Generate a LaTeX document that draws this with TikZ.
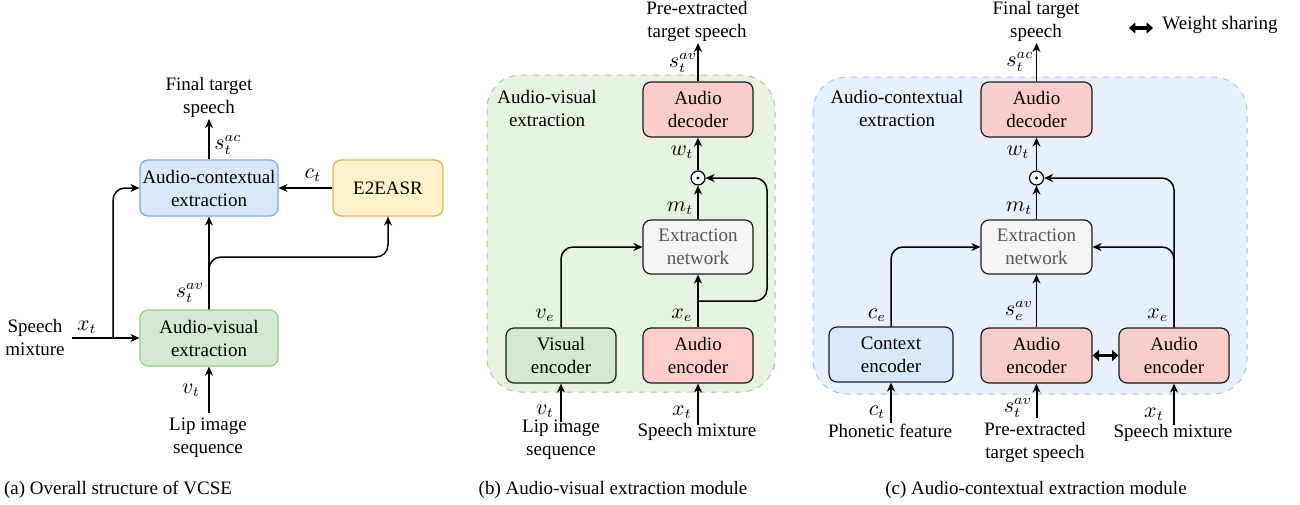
\documentclass[tikz,border=0pt]{standalone}
\usepackage{fontspec}
\setmainfont{Liberation Serif}
\usetikzlibrary{arrows.meta,calc}
\definecolor{acfill}{HTML}{DAE8FC}
\definecolor{acdraw}{HTML}{7EA6E0}
\definecolor{avfill}{HTML}{D5E8D4}
\definecolor{avdraw}{HTML}{97D077}
\definecolor{asrfill}{HTML}{FFF2CC}
\definecolor{asrdraw}{HTML}{D6B656}
\definecolor{redfill}{HTML}{F8CECC}
\definecolor{redfillb}{HTML}{FFCCCC}
\definecolor{extfill}{HTML}{F5F5F5}
\definecolor{exttext}{HTML}{555555}
\definecolor{gregfill}{HTML}{E7F1E4}
\definecolor{gregdraw}{HTML}{A9D18E}
\definecolor{bregfill}{HTML}{E9F0FC}
\definecolor{bregdraw}{HTML}{A9C4EB}
\definecolor{boxline}{HTML}{1A1A1A}
\tikzset{
  every node/.style={font=\fontsize{9.5}{11.5}\selectfont, inner sep=0pt},
  box/.style={rectangle, rounded corners=4pt, align=center, line width=0.6pt},
  blk/.style={box, draw=boxline},
  arr/.style={-{Stealth[length=4.5pt,width=4pt]}, line width=0.75pt},
  wsarr/.style={{Triangle[length=3.2pt,width=5.5pt]}-{Triangle[length=3.2pt,width=5.5pt]}, line width=1.6pt},
  odot/.style={circle, draw, line width=0.6pt, minimum size=7pt, fill=white},
  txt/.style={align=center},
  lab/.style={font=\fontsize{10.5}{12}\selectfont},
}
\begin{document}
\begin{tikzpicture}[x=0.5pt,y=-0.5pt]
\useasboundingbox (0,0) rectangle (1300,504);
% ================= panel (a) =================
\node[box, draw=acdraw, fill=acfill, minimum width=69pt, minimum height=28pt] (acx) at (209,188) {Audio-contextual\\extraction};
\node[box, draw=asrdraw, fill=asrfill, minimum width=55pt, minimum height=28pt] (asr) at (388,188) {E2EASR};
\node[box, draw=avdraw, fill=avfill, minimum width=69pt, minimum height=28pt] (avx) at (209,338) {Audio-visual\\extraction};
\node[txt] (afintxt) at (209,97) {Final target\\speech};
\coordinate (afin) at (209,119);
\draw[arr] (acx.north) -- (afin);
\node[lab] (asac) at (228,145) {$s_t^{ac}$};
\draw[arr] (asr.west) -- (acx.east);
\node[lab] (act) at (313,175) {$c_t$};
\draw[arr] (avx.north) -- (acx.south);
\coordinate (abr) at (388,257);
\draw[arr, rounded corners=6pt] (avx.north) |- (abr) -- (asr.south);
\node[lab] (asav) at (190,293) {$s_t^{av}$};
\node[txt] (amixtxt) at (35,337) {Speech\\mixture};
\coordinate (ain) at (72,338);
\coordinate (asplit) at (113,338);
\draw[arr] (ain) -- (avx.west);
\draw[arr, rounded corners=6pt] (asplit) |- (acx.west);
\node[lab] (axt) at (87,327) {$x_t$};
\coordinate (avin) at (209,413);
\draw[arr] (avin) -- (avx.south);
\node[lab] (avt) at (191,390) {$v_t$};
\node[txt] (aliptxt) at (208,438) {Lip image\\sequence};
\node (capa) at (118,490) {(a) Overall structure of VCSE};
% ================= panel (b) =================
\draw[gregdraw, fill=gregfill, dashed, line width=0.5pt, rounded corners=17pt] (487,75) rectangle (775,392);
\node[txt] (bregtxt) at (547,108) {Audio-visual\\extraction};
\node[blk, fill=redfill, minimum width=55pt, minimum height=27.5pt] (bdec) at (698,109.5) {Audio\\decoder};
\node[odot] (bodot) at (698,178) {};
\fill (bodot.center) circle (0.8pt);
\node[blk, fill=extfill, text=exttext, minimum width=55pt, minimum height=27pt] (bext) at (698,247) {Extraction\\network};
\node[blk, fill=avfill, minimum width=55pt, minimum height=27.5pt] (bvis) at (561,355.5) {Visual\\encoder};
\node[blk, fill=redfillb, minimum width=55pt, minimum height=27.5pt] (baud) at (698,355.5) {Audio\\encoder};
\node[txt] (bouttxt) at (697,21) {Pre-extracted\\target speech};
\coordinate (bout) at (698,43);
\draw[arr] (bdec.north) -- (bout);
\node[lab] (bsav) at (683,63) {$s_t^{av}$};
\draw[arr] (bodot.north) -- (bdec.south);
\node[lab] (bwt) at (682,152) {$w_t$};
\draw[arr] (bext.north) -- (bodot.south);
\node[lab] (bmt) at (680,208) {$m_t$};
\draw[arr, rounded corners=6pt] (bvis.north) |- (bext.west);
\node[lab] (bve) at (545,315) {$v_e$};
\draw[arr] (baud.north) -- (bext.south);
\node[lab] (bxe) at (682,315) {$x_e$};
\coordinate (bsplit) at (698,301);
\coordinate (bc1) at (767,301);
\draw[arr, rounded corners=6pt] (bsplit) -- (bc1) |- (bodot.east);
\coordinate (bvin) at (561,422);
\coordinate (bxin) at (698,425);
\draw[arr] (bvin) -- (bvis.south);
\draw[arr] (bxin) -- (baud.south);
\node[lab] (bvt) at (545,411) {$v_t$};
\node[lab] (bxt) at (682,412) {$x_t$};
\node[txt] (bliptxt) at (561,440) {Lip image\\sequence};
\node[txt] (bmixtxt) at (697,432) {Speech mixture};
\node (capb) at (613,490) {(b) Audio-visual extraction module};
% ================= panel (c) =================
\draw[bregdraw, fill=bregfill, dashed, line width=0.5pt, rounded corners=17pt] (813,77) rectangle (1247,394);
\node[txt] (cregtxt) at (897,108) {Audio-contextual\\extraction};
\node[blk, fill=redfill, minimum width=55.5pt, minimum height=27.5pt] (cdec) at (1036.5,109.5) {Audio\\decoder};
\node[odot] (codot) at (1036.5,178) {};
\fill (codot.center) circle (0.8pt);
\node[blk, fill=extfill, text=exttext, minimum width=55.5pt, minimum height=27pt] (cext) at (1036.5,247) {Extraction\\network};
\node[blk, fill=acfill, minimum width=62pt, minimum height=27.5pt] (cctx) at (891,354.5) {Context\\encoder};
\node[blk, fill=redfill, minimum width=55.5pt, minimum height=27.5pt] (caud1) at (1036.5,355.5) {Audio\\encoder};
\node[blk, fill=redfill, minimum width=55pt, minimum height=27.5pt] (caud2) at (1174,355.5) {Audio\\encoder};
\node[txt] (couttxt) at (1036,21) {Final target\\speech};
\coordinate (cout) at (1036.5,43);
\draw[arr] (cdec.north) -- (cout);
\node[lab] (csac) at (1020,62) {$s_t^{ac}$};
\draw[arr] (codot.north) -- (cdec.south);
\node[lab] (cwt) at (1018,152) {$w_t$};
\draw[arr] (cext.north) -- (codot.south);
\node[lab] (cmt) at (1019,208) {$m_t$};
\draw[arr, rounded corners=6pt] (cctx.north) |- (cext.west);
\node[lab] (cce) at (877,315) {$c_e$};
\draw[arr] (caud1.north) -- (cext.south);
\node[lab] (cseav) at (1019,311) {$s_e^{av}$};
\draw[arr, rounded corners=6pt] (caud2.north) |- (cext.east);
\draw[arr, rounded corners=6pt] (caud2.north) |- (codot.east);
\node[lab] (cxe) at (1158,315) {$x_e$};
\draw[wsarr] (caud1.east) -- (caud2.west);
\coordinate (cws1) at (1129,28);
\coordinate (cws2) at (1153,28);
\draw[wsarr] (cws1) -- (cws2);
\node (cwstxt) at (1220,25) {Weight sharing};
\coordinate (ccin) at (891,423);
\coordinate (csin) at (1036.5,418);
\coordinate (cxin) at (1174,425);
\draw[arr] (ccin) -- (cctx.south);
\draw[arr, line width=1pt] (csin) -- (caud1.south);
\draw[arr] (cxin) -- (caud2.south);
\node[lab] (cct) at (877,412) {$c_t$};
\node[lab] (cstav) at (1018,408) {$s_t^{av}$};
\node[lab] (cxt) at (1154,414) {$x_t$};
\node[txt] (cphtxt) at (890,431) {Phonetic feature};
\node[txt] (cpretxt) at (1035,442) {Pre-extracted\\target speech};
\node[txt] (cmixtxt) at (1173,433) {Speech mixture};
\node (capc) at (1036,490) {(c) Audio-contextual extraction module};
\end{tikzpicture}
\end{document}
